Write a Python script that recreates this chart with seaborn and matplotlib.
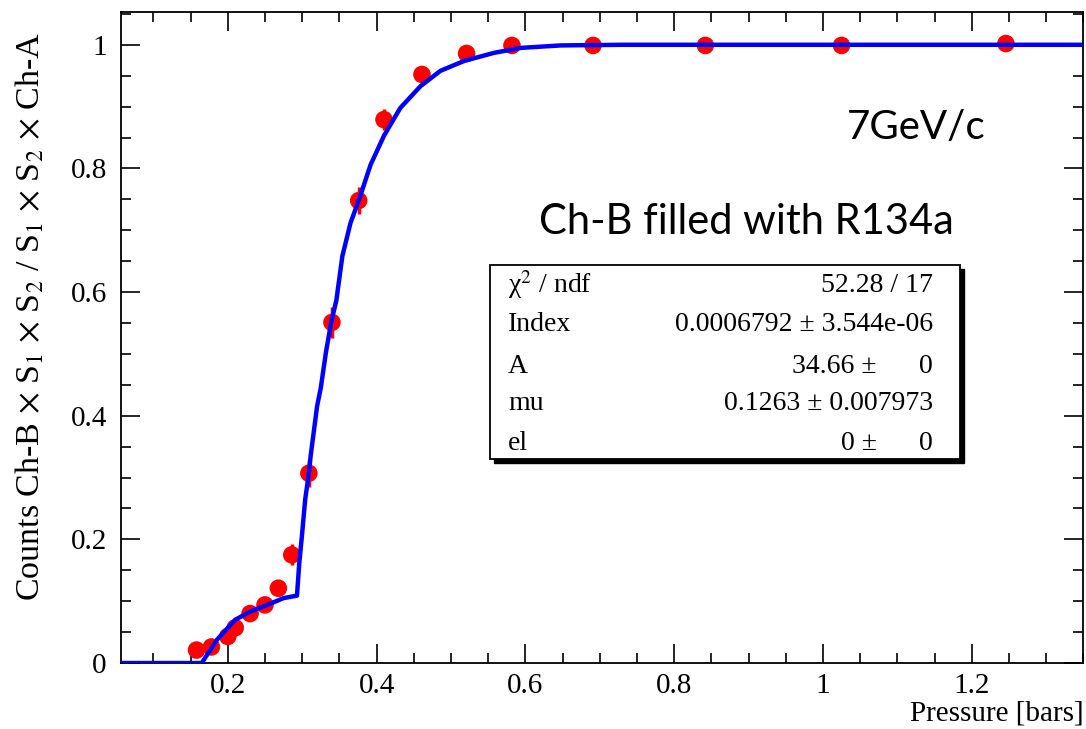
import matplotlib
matplotlib.use("Agg")
import matplotlib.pyplot as plt
from matplotlib.ticker import MultipleLocator, FuncFormatter
from matplotlib.patches import Rectangle
import seaborn as sns
import pandas as pd

# ---- data ----
pressure = [0.158, 0.178, 0.200, 0.210, 0.230, 0.250, 0.268, 0.286, 0.309, 0.340,
            0.376, 0.410, 0.461, 0.521, 0.582, 0.691, 0.842, 1.025, 1.246]
ratio = [0.021, 0.026, 0.043, 0.057, 0.080, 0.094, 0.121, 0.175, 0.307, 0.551,
         0.748, 0.879, 0.952, 0.986, 0.999, 0.999, 0.999, 0.999, 1.002]
ratio_err = [0.006, 0.007, 0.008, 0.008, 0.010, 0.011, 0.013, 0.017, 0.022, 0.025,
             0.022, 0.017, 0.010, 0.006, 0.003, 0.002, 0.002, 0.002, 0.002]

fit_x = [0.055, 0.165, 0.185, 0.210, 0.230, 0.253, 0.275, 0.293, 0.296, 0.300,
         0.304, 0.309, 0.3115, 0.320, 0.325, 0.332, 0.339, 0.346, 0.354, 0.365,
         0.376, 0.392, 0.410, 0.432, 0.459, 0.486, 0.518, 0.558, 0.594, 0.648,
         0.730, 1.350]
fit_y = [0.0, 0.0, 0.037, 0.070, 0.083, 0.094, 0.105, 0.109, 0.160, 0.210,
         0.264, 0.307, 0.336, 0.415, 0.445, 0.503, 0.551, 0.587, 0.658, 0.712,
         0.748, 0.806, 0.853, 0.898, 0.933, 0.958, 0.974, 0.987, 0.995, 0.999,
         1.0, 1.0]

stat_names = ["χ$^{2}$ / ndf", "Index", "A", "mu", "el"]
stat_values = ["52.28 / 17", "0.0006792 ± 3.544e-06", "34.66 ±", "0.1263 ± 0.007973", "0 ±"]
stat_errs = ["", "", "0", "", "0"]

x_label = "Pressure [bars]"
y_label = "Counts Ch-B $\\times$ S$_1$ $\\times$ S$_2$ / S$_1$ $\\times$ S$_2$ $\\times$ Ch-A"
note1 = "7GeV/c"
note2 = "Ch-B filled with R134a"

# ---- style ----
sns.set_theme(style="ticks")
plt.rcParams["font.family"] = ["Liberation Serif", "DejaVu Serif"]
plt.rcParams["mathtext.fontset"] = "stix"
for key in ["text.color", "axes.labelcolor", "xtick.color", "ytick.color"]:
    plt.rcParams[key] = "black"

df_pts = pd.DataFrame({"p": pressure, "r": ratio})
df_fit = pd.DataFrame({"p": fit_x, "r": fit_y})

fig = plt.figure(figsize=(10.86, 7.29), dpi=100)
ax = fig.add_axes([0.1111, 0.0905, 0.8864, 0.893])

ax.errorbar(pressure, ratio, yerr=ratio_err, fmt="none", ecolor="#ff0000",
            elinewidth=2.5, capsize=0, zorder=2)
sns.scatterplot(data=df_pts, x="p", y="r", ax=ax, color="#ff0000", s=160,
                edgecolor="none", zorder=3, legend=False)
sns.lineplot(data=df_fit, x="p", y="r", ax=ax, color="#0000ff", lw=3.2,
             sort=False, estimator=None, zorder=4, legend=False)

ax.set_xlim(0.056, 1.35)
ax.set_ylim(0, 1.053)
ax.xaxis.set_major_locator(MultipleLocator(0.2))
ax.xaxis.set_minor_locator(MultipleLocator(0.05))
ax.yaxis.set_major_locator(MultipleLocator(0.2))
ax.yaxis.set_minor_locator(MultipleLocator(0.05))
fmt = FuncFormatter(lambda v, pos: f"{round(v, 3):g}")
ax.xaxis.set_major_formatter(fmt)
ax.yaxis.set_major_formatter(fmt)
ax.tick_params(which="both", direction="in", top=True, right=True, color="black", width=1.2)
ax.tick_params(which="major", length=14)
ax.tick_params(which="minor", length=7.5)
ax.tick_params(axis="x", which="major", pad=7, labelsize=21)
ax.tick_params(axis="y", which="major", pad=10, labelsize=21)
for s in ax.spines.values():
    s.set_visible(True)
    s.set_color("black")
    s.set_linewidth(1.3)

ax.set_xlabel("")
ax.set_ylabel("")
fig.text(0.9975, 0.004, x_label, ha="right", va="bottom", fontsize=21)
fig.text(0.028, 0.565, y_label, rotation=90, ha="center", va="center", fontsize=24.5)

ax.text(0.826, 0.822, note1, transform=ax.transAxes, ha="center", va="center",
        fontsize=29, family=["Lato", "DejaVu Sans"])
ax.text(0.65, 0.677, note2, transform=ax.transAxes, ha="center", va="center",
        fontsize=30, family=["Lato", "DejaVu Sans"])

# stats box (figure pixel coords -> fractions)
W, H = 1086.0, 729.0
bx0, by0, bx1, by1 = 490, 265, 960, 459
fig.patches.append(Rectangle(((bx0 + 4) / W, 1 - (by1 + 4) / H), (bx1 - bx0) / W, (by1 - by0) / H,
                             transform=fig.transFigure, facecolor="black", edgecolor="black",
                             zorder=5))
fig.patches.append(Rectangle((bx0 / W, 1 - by1 / H), (bx1 - bx0) / W, (by1 - by0) / H,
                             transform=fig.transFigure, facecolor="white", edgecolor="black",
                             lw=1.3, zorder=6))
rows_y = [285, 325, 366, 404, 443]
for name, val, err, yy in zip(stat_names, stat_values, stat_errs, rows_y):
    fig.text(508 / W, 1 - yy / H, name, ha="left", va="center", fontsize=20, zorder=7)
    if err:
        fig.text(877 / W, 1 - yy / H, val, ha="right", va="center", fontsize=20, zorder=7)
        fig.text(933 / W, 1 - yy / H, err, ha="right", va="center", fontsize=20, zorder=7)
    else:
        fig.text(933 / W, 1 - yy / H, val, ha="right", va="center", fontsize=20, zorder=7)

fig.savefig("out.png", dpi=100)
